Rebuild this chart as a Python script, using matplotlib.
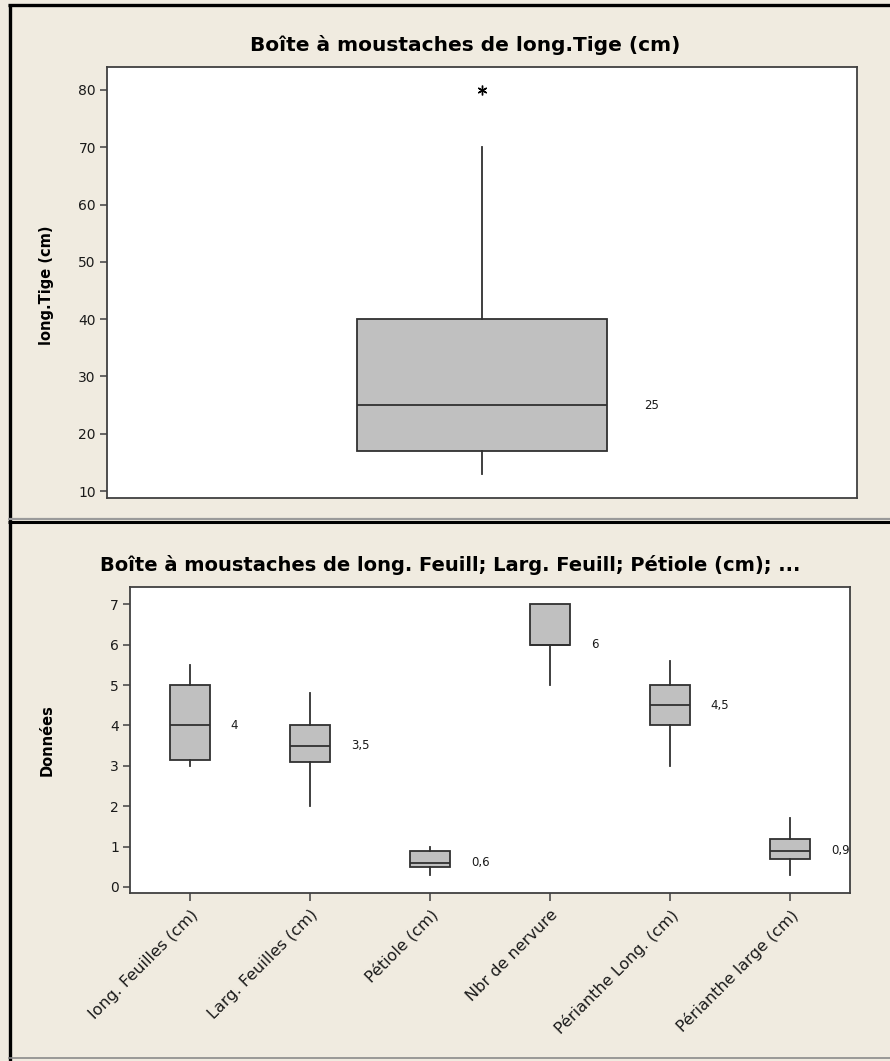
import matplotlib
matplotlib.use("Agg")
import matplotlib.pyplot as plt
from matplotlib.lines import Line2D

# ---- data -------------------------------------------------------------
tige_min = 13
tige_q1 = 17
tige_med = 25
tige_q3 = 40
tige_max = 70
tige_outliers = [80]

categories = ["long. Feuilles (cm)", "Larg. Feuilles (cm)", "Pétiole (cm)",
              "Nbr de nervure", "Périanthe Long. (cm)", "Périanthe large (cm)"]
whis_low = [3.0, 2.0, 0.3, 5.0, 3.0, 0.3]
q1_vals = [3.15, 3.1, 0.5, 6.0, 4.0, 0.7]
medians = [4.0, 3.5, 0.6, 6.0, 4.5, 0.9]
q3_vals = [5.0, 4.0, 0.9, 7.0, 5.0, 1.2]
whis_high = [5.5, 4.8, 1.0, 7.0, 5.6, 1.7]

top_yticks = [10, 20, 30, 40, 50, 60, 70, 80]
bottom_yticks = [0, 1, 2, 3, 4, 5, 6, 7]

# ---- style ------------------------------------------------------------
W, H = 890, 1061
BG = "#F0EBE0"
BOX = "#C0C0C0"
EDGE = "#303030"
FRAME = "#404040"
plt.rcParams["font.family"] = ["DejaVu Sans"]


def fx(px):
    return px / W


def fy(py):
    return 1 - py / H


def fmt(v):
    return f"{v:g}".replace(".", ",")


fig = plt.figure(figsize=(W / 100, H / 100), dpi=100, facecolor=BG)

box_kw = dict(patch_artist=True, showcaps=False,
              boxprops=dict(facecolor=BOX, edgecolor=EDGE, linewidth=1.3),
              whiskerprops=dict(color=EDGE, linewidth=1.3),
              medianprops=dict(color=EDGE, linewidth=1.3),
              flierprops=dict(marker=(6, 2, 0), markersize=7,
                              markeredgecolor="black", markeredgewidth=1.0))


def style_axes(ax):
    ax.set_facecolor("white")
    for s in ax.spines.values():
        s.set_color(FRAME)
        s.set_linewidth(1.3)
    ax.tick_params(axis="both", direction="out", length=5, width=1.1,
                   color=FRAME, labelsize=10, labelcolor="#1a1a1a", pad=3)


# ---- top panel: long.Tige --------------------------------------------
ax1 = fig.add_axes([fx(107), fy(498), fx(857 - 107), (498 - 67) / H])
style_axes(ax1)
stats_top = [dict(med=tige_med, q1=tige_q1, q3=tige_q3,
                  whislo=tige_min, whishi=tige_max, fliers=tige_outliers)]
ax1.bxp(stats_top, positions=[1], widths=1 / 3, **box_kw)
ax1.set_xlim(0.5, 1.5)
ax1.set_ylim(8.8, 84.0)
ax1.set_yticks(top_yticks)
ax1.set_xticks([])
ax1.annotate(fmt(tige_med), xy=(1 + 1 / 6, tige_med), xytext=(27, 0),
             textcoords="offset points", ha="left", va="center",
             fontsize=8.5, color="#1a1a1a")

fig.text(fx(465), fy(45), "Boîte à moustaches de long.Tige (cm)",
         ha="center", va="center", fontsize=14.5, fontweight="bold")
fig.text(fx(47), fy(285), "long.Tige (cm)", rotation=90,
         ha="center", va="center", fontsize=10.5, fontweight="bold")

# ---- bottom panel: leaf / flower measurements -------------------------
ax2 = fig.add_axes([fx(130), fy(893), fx(850 - 130), (893 - 587) / H])
style_axes(ax2)
positions = list(range(1, len(categories) + 1))
stats_bottom = [dict(med=m, q1=a, q3=b, whislo=lo, whishi=hi, fliers=[])
                for m, a, b, lo, hi in zip(medians, q1_vals, q3_vals,
                                           whis_low, whis_high)]
ax2.bxp(stats_bottom, positions=positions, widths=1 / 3, **box_kw)
ax2.set_xlim(0.5, len(categories) + 0.5)
ax2.set_ylim(-0.15, 7.43)
ax2.set_yticks(bottom_yticks)
ax2.set_xticks(positions)
ax2.set_xticklabels(categories, rotation=45, ha="right",
                    rotation_mode="anchor", fontsize=11.5)
ax2.tick_params(axis="x", length=6, pad=4)
for p, m in zip(positions, medians):
    ax2.annotate(fmt(m), xy=(p + 1 / 6, m), xytext=(15, 0),
                 textcoords="offset points", ha="left", va="center",
                 fontsize=8.5, color="#1a1a1a")

fig.text(fx(450), fy(565),
         "Boîte à moustaches de long. Feuill; Larg. Feuill; Pétiole (cm); ...",
         ha="center", va="center", fontsize=14, fontweight="bold")
fig.text(fx(47), fy(740), "Données", rotation=90,
         ha="center", va="center", fontsize=10.5, fontweight="bold")

# ---- window frames ----------------------------------------------------
def hline(y, x0, x1, color, lw):
    fig.add_artist(Line2D([fx(x0), fx(x1)], [fy(y), fy(y)],
                          color=color, linewidth=lw, solid_capstyle="butt"))


def vline(x, y0, y1, color, lw):
    fig.add_artist(Line2D([fx(x), fx(x)], [fy(y0), fy(y1)],
                          color=color, linewidth=lw, solid_capstyle="butt"))


hline(5, 8, W, "black", 2.4)
vline(9.5, 4, H, "black", 2.4)
hline(518.5, 8, W, "#9a9a9a", 1.6)
hline(521.5, 8, W, "black", 2.2)
hline(1058, 8, W, "#8a8a8a", 1.2)

fig.savefig("out.png", dpi=100, facecolor=BG)
